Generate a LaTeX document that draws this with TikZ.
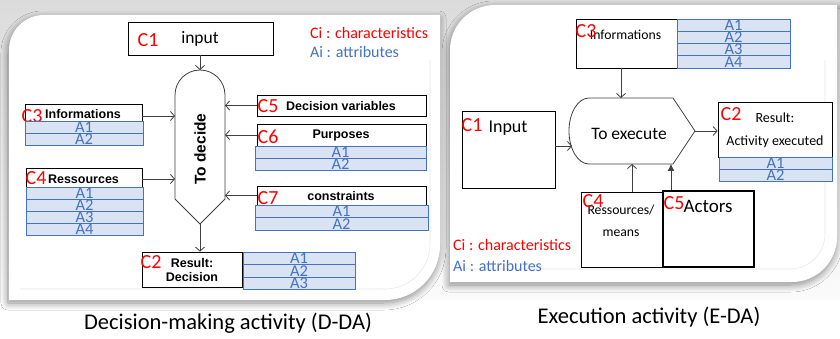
\documentclass[tikz,border=0pt]{standalone}
\usepackage{fontspec}
\setmainfont{Carlito}
\newfontfamily\arialf{Liberation Sans}
\usetikzlibrary{arrows.meta,shadows.blur,calc}
\definecolor{cred}{HTML}{FF0000}
\definecolor{ablue}{HTML}{4472C4}
\definecolor{afill}{HTML}{DAE3F3}
\definecolor{arrgray}{HTML}{404040}
\begin{document}
\begin{tikzpicture}[x=1pt,y=-1pt,
 box/.style={draw=black, line width=0.8pt, inner sep=0pt, fill=white},
 attr/.style={draw=ablue, line width=0.9pt, fill=afill, text=ablue, inner sep=0pt, font=\fontsize{16.5}{16.5}\selectfont},
 clab/.style={text=cred, inner sep=0pt, font=\fontsize{20}{20}\selectfont},
 blbl/.style={inner sep=0pt, font=\arialf\fontsize{12.5}{14}\selectfont\bfseries, align=center},
 rlbl/.style={inner sep=0pt, font=\fontsize{13.7}{22}\selectfont, align=center},
 legr/.style={inner sep=0pt, anchor=west, text=cred, font=\fontsize{16}{16}\selectfont},
 legb/.style={inner sep=0pt, anchor=west, text=ablue, font=\fontsize{16}{16}\selectfont},
 captxt/.style={inner sep=0pt, font=\fontsize{22.5}{22.5}\selectfont},
 conn/.style={draw=arrgray, line width=0.8pt, -{Straight Barb[length=4pt,width=9pt]}},
 shapeln/.style={draw=arrgray, line width=0.8pt, fill=white},
 panel/.style={fill=white, blur shadow={shadow xshift=-1pt, shadow yshift=-3pt, shadow blur radius=7pt, shadow blur steps=10, shadow opacity=45}},
 inner/.style={draw=gray!18, line width=0.6pt}
]
\useasboundingbox (0,0) rectangle (840,339);
\shade[top color=gray!28, bottom color=white] (0,0) rectangle (840,339);
\fill[white] (0,300) rectangle (840,339);
% panels
\path[panel] (9,300) -- (9,50) arc[start angle=180, end angle=90, radius=35pt] -- (440,15) -- (440,245) arc[start angle=0, end angle=-90, radius=55pt] -- cycle;
\path[panel] (450,282) -- (450,50) arc[start angle=180, end angle=90, radius=45pt] -- (845,5) -- (837,5) -- (837,237) arc[start angle=0, end angle=-90, radius=45pt] -- cycle;
\draw[inner] (20,289) -- (385,289) arc[start angle=-90, end angle=0, radius=45pt] -- (430,60);
\draw[inner] (452,269) -- (790,269) arc[start angle=-90, end angle=0, radius=35pt] -- (825,60);

% ================= LEFT: Decision-making =================
\node[box, minimum width=145pt, minimum height=33pt] (in1) at (200.5,38.5) {};
\node[clab] (in1c) at (148,40) {C1};
\node[inner sep=0pt, font=\fontsize{17.5}{17.5}\selectfont] (in1t) at (200,39) {input};
\node[legr] (leg1a) at (310,33) {Ci : characteristics};
\node[legb] (leg1b) at (310,52) {Ai : attributes};

\draw[shapeln] (175,199) -- (175,95) arc[start angle=180, end angle=0, radius=25pt] -- (225,199) -- (200,224) -- cycle;
\coordinate (decTop) at (200,70);
\coordinate (decBot) at (200,224);
\coordinate (decL) at (175,150);
\coordinate (decR) at (225,150);
\node[inner sep=0pt, rotate=90, font=\arialf\fontsize{15.5}{15.5}\selectfont\bfseries] (decT) at (200,149) {To decide};

% result
\node[box, minimum width=100pt, minimum height=35pt] (res1) at (192,269.5) {};
\node[clab] (res1c) at (151,262) {C2};
\node[blbl] (res1t) at (192,270) {Result:\\Decision};
\foreach \i/\y in {1/258.25,2/270.75,3/283.25}
  \node[attr, minimum width=112pt, minimum height=12.5pt] (ra\i) at (299,\y) {A\i};

% informations
\node[box, minimum width=117pt, minimum height=17pt] (info1) at (83.5,112.5) {};
\node[blbl] (info1t) at (83,114) {Informations};
\node[clab] (info1c) at (32,116) {C3};
\foreach \i/\y in {1/127,2/139}
  \node[attr, minimum width=118pt, minimum height=12pt] (ia\i) at (84,\y) {A\i};

% ressources
\node[box, minimum width=116pt, minimum height=19pt] (ress1) at (84,177.5) {};
\node[clab] (ress1c) at (36,178) {C4};
\node[blbl] (ress1t) at (83.5,179) {Ressources};
\foreach \i/\y in {1/193,2/205,3/217,4/229}
  \node[attr, minimum width=117pt, minimum height=12pt] (sa\i) at (84.5,\y) {A\i};

% decision variables
\node[box, minimum width=169pt, minimum height=21pt] (dv) at (341.5,105.5) {};
\node[clab] (dvc) at (268,106) {C5};
\node[blbl] (dvt) at (341,106) {Decision variables};

% purposes
\node[box, minimum width=169pt, minimum height=22pt] (pur) at (341.5,135) {};
\node[clab] (purc) at (268,137) {C6};
\node[blbl] (purt) at (341,135) {Purposes};
\foreach \i/\y in {1/152,2/164}
  \node[attr, minimum width=171pt, minimum height=12pt] (pa\i) at (340.5,\y) {A\i};

% constraints
\node[box, minimum width=169pt, minimum height=19pt] (con) at (341.5,195.5) {};
\node[clab] (conc) at (268,198) {C7};
\node[blbl] (cont) at (341,196) {constraints};
\foreach \i/\y in {1/211.25,2/223.75}
  \node[attr, minimum width=173pt, minimum height=12.5pt] (ca\i) at (341.5,\y) {A\i};

% connectors left
\coordinate (infoA) at ($(info1.east)+(0,3.5)$);
\coordinate (ressA) at ($(ress1.east)+(0,1.5)$);
\draw[conn] (in1.south -| decTop) -- (decTop);
\draw[conn] (decBot) -- (decBot |- res1.north);
\draw[conn] (infoA) -- (infoA -| decL);
\draw[conn] (ressA) -- (ressA -| decL);
\draw[conn] (dv.west) -- (dv.west -| decR);
\draw[conn] (pur.west) -- (pur.west -| decR);
\draw[conn] (con.west) -- (con.west -| decR);

\node[captxt] (cap1) at (228,323) {Decision-making activity (D-DA)};

% ================= RIGHT: Execution =================
\node[box, minimum width=101pt, minimum height=49pt] (info2) at (626.5,43.5) {};
\node[rlbl] (info2t) at (625.5,35) {Informations};
\node[clab] (info2c) at (586,31) {C3};
\foreach \i/\y in {1/25.1,2/37.4,3/49.6,4/61.9}
  \node[attr, minimum width=113pt, minimum height=12.25pt] (ja\i) at (733.5,\y) {A\i};

\draw[shapeln] (589,164) arc[start angle=270, end angle=90, x radius=20pt, y radius=33pt] -- (673,98) -- (695,131) -- (673,164) -- cycle;
\coordinate (exeTop) at (621,98);
\coordinate (exeR) at (695,131);
\coordinate (exeL) at (572,146);
\coordinate (exeB1) at (632,164);
\coordinate (exeB2) at (671,164);
\node[inner sep=0pt, font=\fontsize{17.5}{17.5}\selectfont] (exeT) at (629,134) {To execute};

\node[box, minimum width=114pt, minimum height=55pt] (res2) at (775,129.5) {};
\node[clab] (res2c) at (731,114) {C2};
\node[rlbl, font=\fontsize{14}{23}\selectfont] (res2t) at (775,130) {Result:\\Activity executed};
\foreach \i/\y in {1/163,2/175}
  \node[attr, minimum width=113pt, minimum height=12pt] (ka\i) at (775.5,\y) {A\i};

\node[box, minimum width=93pt, minimum height=77pt] (in2) at (508.5,149.5) {};
\node[clab] (in2c) at (472,125) {C1};
\node[inner sep=0pt, font=\fontsize{18}{18}\selectfont] (in2t) at (508,128) {Input};

\node[box, minimum width=82pt, minimum height=75pt] (ress2) at (622,229.5) {};
\node[rlbl] (ress2t) at (621,221) {Ressources/\\means};
\node[clab] (ress2c) at (593,201) {C4};

\node[box, line width=1.2pt, minimum width=91pt, minimum height=76pt] (act) at (708.5,229) {};
\node[clab] (actc) at (674,203) {C5};
\node[inner sep=0pt, font=\fontsize{19}{19}\selectfont] (actt) at (708,206) {Actors};

\node[legr] (leg2a) at (453,245) {Ci : characteristics};
\node[legb] (leg2b) at (453,266) {Ai : attributes};

% connectors right
\draw[conn] (exeTop |- info2.south) -- (exeTop);
\draw[conn] (exeR) -- (exeR -| res2.west);
\draw[conn] (in2.east |- exeL) -- (exeL);
\draw[conn] (exeB1 |- ress2.north) -- (exeB1);
\draw[draw=arrgray, line width=0.8pt, -{Latex[length=7pt,width=7pt]}] (exeB2 |- act.north) -- (exeB2);

\node[captxt] (cap2) at (649,317) {Execution activity (E-DA)};
\end{tikzpicture}
\end{document}
